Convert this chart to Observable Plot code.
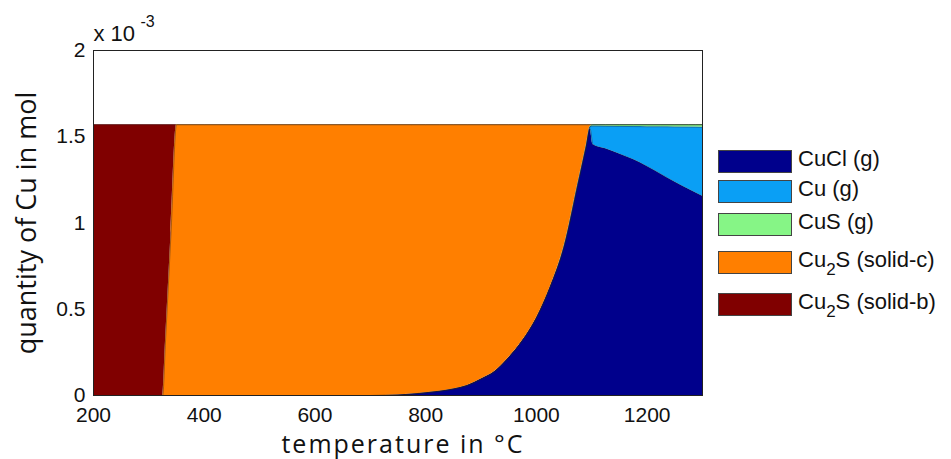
<!DOCTYPE html>
<html>
<head>
<meta charset="utf-8">
<script src="https://cdn.jsdelivr.net/npm/d3@7"></script>
<script src="https://cdn.jsdelivr.net/npm/@observablehq/plot@0.6"></script>
<style>
  html, body { margin: 0; padding: 0; background: #fff; }
  #wrap { position: relative; width: 951px; height: 459px; font-family: "Liberation Sans", Arial, sans-serif; }
  #wrap svg { position: absolute; left: 0; top: 0; }
  #wrap .xlab text { letter-spacing: 2px; }
  #legend { position: absolute; left: 718px; top: 150px; }
  .item { position: absolute; left: 0; width: 240px; height: 24px; }
  .sw { position: absolute; left: 0; top: 0; width: 72px; height: 21px; border: 1px solid #444; }
  .lb { position: absolute; left: 80px; top: -4px; font-size: 22px; color: #111; white-space: nowrap; }
  .lb sub { font-size: 17px; vertical-align: -8px; line-height: 0; }
</style>
</head>
<body>
<div id="wrap"></div>
<script>
// temperature in °C
const temps = [200, 325, 330, 340, 350, 400, 500, 600, 700, 750, 775, 800, 825, 850, 875, 900, 925, 950, 975, 1000, 1025, 1050, 1075, 1090, 1097, 1102, 1125, 1150, 1175, 1200, 1225, 1250, 1275, 1300];
// quantity of Cu in mol (x 10^-3)
const cuCl   = [0, 0, 0, 0, 0, 0, 0, 0, 0, 0.003, 0.008, 0.016, 0.025, 0.038, 0.058, 0.095, 0.14, 0.22, 0.32, 0.45, 0.63, 0.86, 1.22, 1.44, 1.546, 1.455, 1.43, 1.40, 1.368, 1.328, 1.283, 1.237, 1.195, 1.155];
const cuG    = [0, 0, 0, 0, 0, 0, 0, 0, 0, 0, 0, 0, 0, 0, 0, 0, 0, 0, 0, 0, 0, 0.006, 0.01, 0.01, 0.012, 0.107, 0.131, 0.160, 0.191, 0.230, 0.275, 0.320, 0.361, 0.400];
const cuSG   = [0, 0, 0, 0, 0, 0, 0, 0, 0, 0, 0, 0, 0, 0, 0, 0, 0, 0, 0, 0, 0, 0.002, 0.002, 0.002, 0.002, 0.008, 0.009, 0.010, 0.011, 0.012, 0.012, 0.013, 0.014, 0.015];
const cu2sC  = [0, 0, 0.31, 0.94, 1.57, 1.57, 1.57, 1.57, 1.57, 1.567, 1.562, 1.554, 1.545, 1.532, 1.512, 1.475, 1.43, 1.35, 1.25, 1.12, 0.94, 0.702, 0.338, 0.118, 0.01, 0, 0, 0, 0, 0, 0, 0, 0, 0];
const cu2sB  = [1.57, 1.57, 1.26, 0.63, 0, 0, 0, 0, 0, 0, 0, 0, 0, 0, 0, 0, 0, 0, 0, 0, 0, 0, 0, 0, 0, 0, 0, 0, 0, 0, 0, 0, 0, 0];

const species = ["CuCl (g)", "Cu (g)", "CuS (g)", "Cu2S (solid-c)", "Cu2S (solid-b)"];
const labelsHtml = ["CuCl (g)", "Cu (g)", "CuS (g)", "Cu<sub>2</sub>S (solid-c)", "Cu<sub>2</sub>S (solid-b)"];
const colors = ["#00008c", "#0a9ff5", "#86f586", "#ff7f00", "#800000"];
const series = [cuCl, cuG, cuSG, cu2sC, cu2sB];

const xTicks = [200, 400, 600, 800, 1000, 1200];
const yTicks = [0, 0.5, 1, 1.5, 2];
const yTickLabels = ["0", "0.5", "1", "1.5", "2"];

const data = [];
species.forEach((s, i) => temps.forEach((t, j) => data.push({T: t, v: series[i][j], s})));

const font = "Liberation Sans, Arial, sans-serif";

const chart = Plot.plot({
  width: 951,
  height: 459,
  marginLeft: 93,
  marginRight: 249,
  marginTop: 50,
  marginBottom: 64,
  style: {fontFamily: font, background: "transparent", overflow: "visible"},
  x: {domain: [200, 1300], ticks: xTicks, label: null},
  y: {domain: [0, 2], ticks: yTicks, label: null},
  color: {domain: species, range: colors},
  marks: [
    Plot.areaY(data, {x: "T", y: "v", fill: "s", z: "s", order: species, curve: "monotone-x"}),
    Plot.lineY(data, Plot.stackY2({x: "T", y: "v", z: "s", order: species, curve: "monotone-x", stroke: "#222", strokeWidth: 0.7, strokeOpacity: 0.55})),
    Plot.frame({stroke: "#222", strokeWidth: 1}),
    Plot.axisX({ticks: xTicks, tickSize: 0, tickPadding: 12, fontSize: 21, tickFormat: d => String(d), fill: "#111"}),
    Plot.axisY({ticks: yTicks, tickSize: 0, tickPadding: 8, fontSize: 21, tickFormat: (d, i) => yTickLabels[i], fill: "#111"}),
    Plot.text(["temperature in °C"], {frameAnchor: "bottom", dx: 5, dy: 49, fontSize: 25, fill: "#111", fontFamily: "Open Sans, sans-serif", lineAnchor: "middle", className: "xlab"}),
    Plot.text(["quantity of Cu in mol"], {frameAnchor: "left", dx: -66, rotate: -90, fontSize: 27, fill: "#111", fontFamily: "Open Sans, sans-serif", textAnchor: "middle", lineAnchor: "middle"}),
    Plot.text(["x 10"], {frameAnchor: "top-left", dx: 0, dy: -17, fontSize: 22, fill: "#111", textAnchor: "start", lineAnchor: "middle"}),
    Plot.text(["-3"], {frameAnchor: "top-left", dx: 47, dy: -29, fontSize: 16, fill: "#111", textAnchor: "start", lineAnchor: "middle"})
  ]
});

const wrap = document.getElementById("wrap");
wrap.appendChild(chart);

const legend = document.createElement("div");
legend.id = "legend";
const tops = [0, 30, 63, 101, 143];
species.forEach((s, i) => {
  const it = document.createElement("div");
  it.className = "item";
  it.style.top = tops[i] + "px";
  it.innerHTML = `<div class="sw" style="background:${colors[i]}"></div><div class="lb">${labelsHtml[i]}</div>`;
  legend.appendChild(it);
});
wrap.appendChild(legend);
</script>
</body>
</html>
